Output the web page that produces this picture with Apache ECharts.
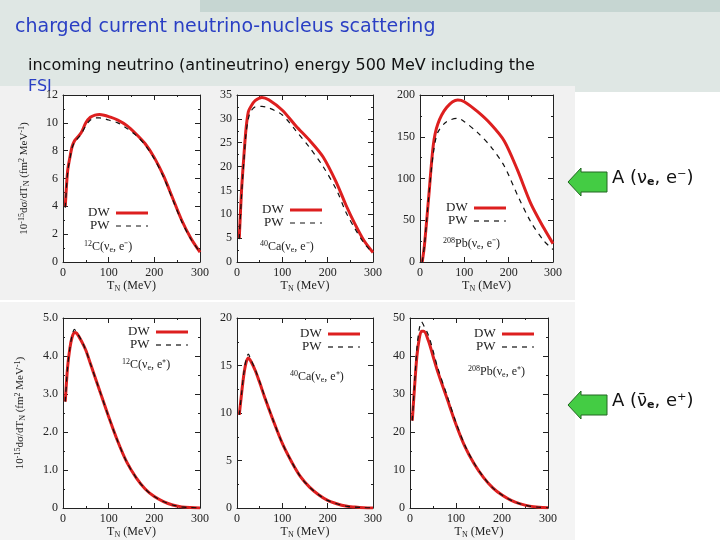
<!DOCTYPE html><html><head><meta charset="utf-8">
<script src="https://cdn.jsdelivr.net/npm/echarts@6/dist/echarts.min.js"></script>
<style>html,body{margin:0;padding:0;background:#fff}#c{width:720px;height:540px}</style></head><body><div id="c"></div>
<script>
// top row (neutrino)
const xC = [5,10,15,20,25,30,40,50,60,70,80,90,100,120,140,160,180,200,220,240,260,280,300];
const cDW = [4,6.5,7.5,8.3,8.7,8.9,9.3,10.0,10.4,10.55,10.6,10.55,10.45,10.2,9.8,9.2,8.5,7.5,6.2,4.6,3.0,1.7,0.7];
const cPW = [3.9,6.4,7.4,8.2,8.6,8.8,9.2,9.8,10.2,10.35,10.35,10.3,10.2,10.0,9.6,9.1,8.4,7.4,6.1,4.5,2.9,1.65,0.7];
const xCa = [5,10,15,20,25,30,40,55,70,100,130,160,190,220,240,260,280,300];
const caDW = [5,15,22,28,31.5,32.5,33.8,34.5,34.0,31.8,28.5,25.5,22,16.5,12,8,4.5,2];
const caPW = [4.8,14,21,27,30,31.5,32.5,32.6,32.3,30.8,27.5,24,20,15,10.5,7,4,1.8];
const xPb = [5,10,20,30,40,60,85,100,130,160,190,220,250,280,300];
const pbDW = [0,20,80,140,165,185,194,192,180,165,145,110,70,40,22];
const pbPW = [0,20,80,130,155,168,172,168,155,138,115,80,48,25,15];
// bottom row (antineutrino)
const xA = [5,10,15,20,25,30,40,50,60,80,100,120,140,160,180,200,220,240,260,280,300];
const acDW = [2.8,3.7,4.2,4.5,4.62,4.6,4.4,4.15,3.8,3.1,2.4,1.75,1.2,0.8,0.5,0.3,0.17,0.08,0.03,0.01,0];
const acPW = [2.8,3.7,4.2,4.55,4.7,4.62,4.42,4.15,3.8,3.1,2.4,1.75,1.2,0.8,0.5,0.3,0.17,0.08,0.03,0.01,0];
const acaDW = [9.8,12,14,15.3,15.8,15.5,14.5,13.2,11.8,9.2,6.8,4.9,3.3,2.2,1.4,0.8,0.45,0.2,0.1,0.03,0];
const acaPW = [9.8,12,14.2,15.6,16.2,15.7,14.6,13.3,11.9,9.2,6.8,4.9,3.3,2.2,1.4,0.8,0.45,0.2,0.1,0.03,0];
const apbDW = [23,32,40,44.5,46.5,46.5,44,40,36,29,22,16,11.5,8,5.3,3.4,2,1.1,0.5,0.2,0.05];
const apbPW = [23,33,42,47,49,48,45.5,41.5,37,29.8,22.5,16.3,11.7,8.1,5.3,3.4,2,1.1,0.5,0.2,0.05];

const panels = [
 {g:{left:63,top:95,width:137,height:167},max:12,int:2,x:xC,dw:cDW,pw:cPW,nuc:['12','C','e⁻'],lg:[88,213],lb:[84,240]},
 {g:{left:237,top:95,width:136,height:167},max:35,int:5,x:xCa,dw:caDW,pw:caPW,nuc:['40','Ca','e⁻'],lg:[262,210],lb:[260,240]},
 {g:{left:420,top:95,width:133,height:167},max:200,int:50,x:xPb,dw:pbDW,pw:pbPW,nuc:['208','Pb','e⁻'],lg:[446,208],lb:[443,237]},
 {g:{left:63,top:318,width:137,height:194},max:5,int:1,x:xA,dw:acDW,pw:acPW,nuc:['12','C','e⁺'],lg:[128,332],lb:[122,358],dec:1},
 {g:{left:237,top:318,width:136,height:194},max:20,int:5,x:xA,dw:acaDW,pw:acaPW,nuc:['40','Ca','e⁺'],lg:[300,334],lb:[290,370]},
 {g:{left:410,top:318,width:138,height:194},max:50,int:10,x:xA,dw:apbDW,pw:apbPW,nuc:['208','Pb','e⁺'],lg:[474,334],lb:[468,365]}
];
const serif = 'Liberation Serif';
const opt = {animation:false,grid:[],xAxis:[],yAxis:[],series:[],graphic:[]};
opt.graphic.push({type:'rect',shape:{x:0,y:0,width:720,height:92},style:{fill:'#dfe7e4'},z:-10});
opt.graphic.push({type:'rect',shape:{x:200,y:0,width:520,height:12},style:{fill:'#c6d6d2'},z:-9});
opt.graphic.push({type:'rect',shape:{x:0,y:86,width:575,height:214},style:{fill:'#f1f1f1'},z:-8});
opt.graphic.push({type:'rect',shape:{x:0,y:302,width:575,height:238},style:{fill:'#f4f4f4'},z:-8});
opt.graphic.push({type:'text',left:15,top:18,style:{text:'charged current neutrino-nucleus scattering',fill:'#2a3fc4',font:'19px "DejaVu Sans"'}});
opt.graphic.push({type:'text',left:28,top:58,style:{text:'incoming neutrino (antineutrino) energy 500 MeV including the',fill:'#111',font:'16px "DejaVu Sans"'}});
opt.graphic.push({type:'text',left:28,top:79,style:{text:'FSI',fill:'#2a3fc4',font:'16px "DejaVu Sans"'}});
[[170,'A (ν','e',', e⁻)'],[393,'A (ν̄','e',', e⁺)']].forEach(([y,a,b,c])=>{
 opt.graphic.push({type:'polygon',shape:{points:[[568,y+12],[581,y-2],[581,y+2],[607,y+2],[607,y+22],[581,y+22],[581,y+26]]},style:{fill:'#44cc44',stroke:'#226622',lineWidth:1}});
 opt.graphic.push({type:'text',left:612,top:y-1,style:{rich:{m:{font:'18px "DejaVu Sans"',fill:'#111'},s:{font:'bold 11px "DejaVu Sans"',fill:'#111',padding:[8,0,0,0]}},text:'{m|'+a+'}{s|'+b+'}{m|'+c+'}'}});
});
const yName = '{m|10}{p|-15}{m|dσ/dT}{s|N}{m| (fm}{p|2}{m| MeV}{p|-1}{m|)}';
const nameRich = {m:{fontFamily:serif,fontSize:11,color:'#222'},p:{fontFamily:serif,fontSize:8,color:'#222',padding:[0,0,5,0]},s:{fontFamily:serif,fontSize:8,color:'#222',padding:[5,0,0,0]}};
panels.forEach((p,i)=>{
 opt.grid.push(Object.assign({backgroundColor:'#fff',show:true,borderWidth:0},p.g));
 opt.xAxis.push({gridIndex:i,type:'value',min:0,max:300,interval:100,
  name:'{m|T}{s|N}{m| (MeV)}',nameLocation:'middle',nameGap:17,
  nameTextStyle:{rich:{m:{fontFamily:serif,fontSize:12,color:'#222'},s:{fontFamily:serif,fontSize:8,color:'#222',padding:[6,0,0,0]}}},
  axisLine:{onZero:false,lineStyle:{color:'#222'}},axisTick:{inside:true,lineStyle:{color:'#222'}},minorTick:{show:true,splitNumber:2,length:2},
  axisLabel:{fontFamily:serif,fontSize:12,color:'#222',margin:5},splitLine:{show:false}});
 opt.xAxis.push({gridIndex:i,type:'value',position:'top',min:0,max:300,interval:100,axisLine:{onZero:false,lineStyle:{color:'#222'}},axisTick:{inside:true},minorTick:{show:true,splitNumber:2,length:2},axisLabel:{show:false},splitLine:{show:false}});
 const y={gridIndex:i,type:'value',min:0,max:p.max,interval:p.int,
  axisLine:{show:true,onZero:false,lineStyle:{color:'#222'}},axisTick:{inside:true,lineStyle:{color:'#222'}},minorTick:{show:true,splitNumber:2,length:2},
  axisLabel:{fontFamily:serif,fontSize:12,color:'#222',margin:5,formatter:p.dec?(v=>v===0?'0':v.toFixed(1)):null},splitLine:{show:false}};
 if(i===0||i===3) Object.assign(y,{name:yName,nameLocation:'middle',nameGap:i===0?32:36,nameTextStyle:{rich:nameRich}});
 opt.yAxis.push(y);
 opt.yAxis.push({gridIndex:i,type:'value',position:'right',min:0,max:p.max,interval:p.int,axisLine:{show:true,onZero:false,lineStyle:{color:'#222'}},axisTick:{inside:true},minorTick:{show:true,splitNumber:2,length:2},axisLabel:{show:false},splitLine:{show:false}});
 opt.series.push({type:'line',name:'DW',xAxisIndex:2*i,yAxisIndex:2*i,data:p.x.map((v,k)=>[v,p.dw[k]]),smooth:0.3,symbol:'none',lineStyle:{color:'#dd1f1f',width:3},z:3});
 opt.series.push({type:'line',name:'PW',xAxisIndex:2*i,yAxisIndex:2*i,data:p.x.map((v,k)=>[v,p.pw[k]]),smooth:0.3,symbol:'none',lineStyle:{color:'#111',width:1.2,type:[5,5]},z:4});
 const [lx,ly]=p.lg;
 opt.graphic.push({type:'text',left:lx,top:ly-7,style:{text:'DW',font:'13px "Liberation Serif"',fill:'#222'},z:10});
 opt.graphic.push({type:'text',left:lx+2,top:ly+6,style:{text:'PW',font:'13px "Liberation Serif"',fill:'#222'},z:10});
 opt.graphic.push({type:'line',shape:{x1:lx+28,y1:ly,x2:lx+60,y2:ly},style:{stroke:'#dd1f1f',lineWidth:3},z:10});
 opt.graphic.push({type:'line',shape:{x1:lx+28,y1:ly+13,x2:lx+60,y2:ly+13},style:{stroke:'#111',lineWidth:1.2,lineDash:[5,5]},z:10});
 const [a,el,lep]=p.nuc;
 opt.graphic.push({type:'text',left:p.lb[0],top:p.lb[1],z:10,style:{rich:{m:{fontFamily:serif,fontSize:12,fill:'#222'},sup:{fontFamily:serif,fontSize:8,fill:'#222',padding:[0,0,6,0]},sub:{fontFamily:serif,fontSize:8,fill:'#222',padding:[6,0,0,0]}},
  text:'{sup|'+a+'}{m|'+el+'(ν}{sub|e}{m|, '+lep+')}'}});
});
const ch = echarts.init(document.getElementById('c'));
ch.setOption(opt);
</script></body></html>
